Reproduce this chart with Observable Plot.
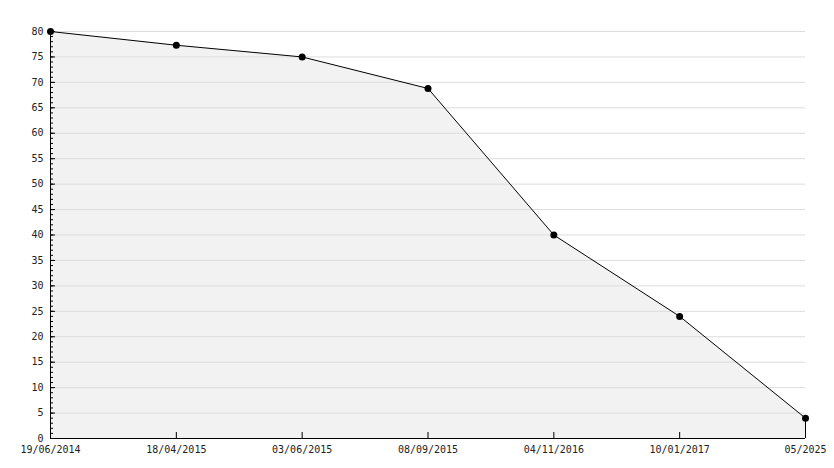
<!DOCTYPE html>
<html>
<head>
<meta charset="utf-8">
<script src="https://cdn.jsdelivr.net/npm/d3@7"></script>
<script src="https://cdn.jsdelivr.net/npm/@observablehq/plot@0.6"></script>
<style>
  html, body { margin: 0; padding: 0; background: #fff; }
  svg { display: block; }
</style>
</head>
<body>
<div id="chart"></div>
<script>
const dates = ["19/06/2014", "18/04/2015", "03/06/2015", "08/09/2015", "04/11/2016", "10/01/2017", "05/2025"];
const values = [80, 77.3, 75, 68.8, 40, 24, 4];
const yMajorTicks = [0, 5, 10, 15, 20, 25, 30, 35, 40, 45, 50, 55, 60, 65, 70, 75, 80];
const yGridTicks = [5, 10, 15, 20, 25, 30, 35, 40, 45, 50, 55, 60, 65, 70, 75, 80];
const yMinorTicks = d3.range(0, 81, 1);

const data = dates.map((d, i) => ({i, date: d, value: values[i]}));
const idx = data.map(d => d.i);
const last = data[data.length - 1];

const chart = Plot.plot({
  width: 834,
  height: 468,
  marginLeft: 50,
  marginRight: 29,
  marginTop: 31,
  marginBottom: 30,
  style: {fontFamily: "DejaVu Sans Mono", fontSize: "10px", color: "#000", background: "#fff"},
  x: {type: "linear", domain: [0, dates.length - 1]},
  y: {domain: [0, 80]},
  marks: [
    Plot.areaY(data, {x: "i", y: "value", fill: "#f2f2f2"}),
    Plot.gridY(yGridTicks, {stroke: "#dddddd", strokeOpacity: 1}),
    Plot.lineY(data, {x: "i", y: "value", stroke: "#000", strokeWidth: 1}),
    Plot.ruleX([last], {x: "i", y1: 0, y2: "value", stroke: "#000"}),
    Plot.axisY({ticks: yMinorTicks, tickSize: -3, tickFormat: () => "", label: null, stroke: "#000"}),
    Plot.axisY({ticks: yMajorTicks, tickSize: -5, tickPadding: 12, label: null, fill: "#222", stroke: "#000"}),
    Plot.axisX({ticks: idx, tickSize: -6, tickPadding: 13, tickFormat: i => dates[i], label: null, fill: "#222", stroke: "#000"}),
    Plot.ruleX([0], {stroke: "#000"}),
    Plot.ruleY([0], {stroke: "#000"}),
    Plot.dot(data, {x: "i", y: "value", r: 3.5, fill: "#000", stroke: "none"})
  ]
});
document.getElementById("chart").appendChild(chart);
</script>
</body>
</html>
